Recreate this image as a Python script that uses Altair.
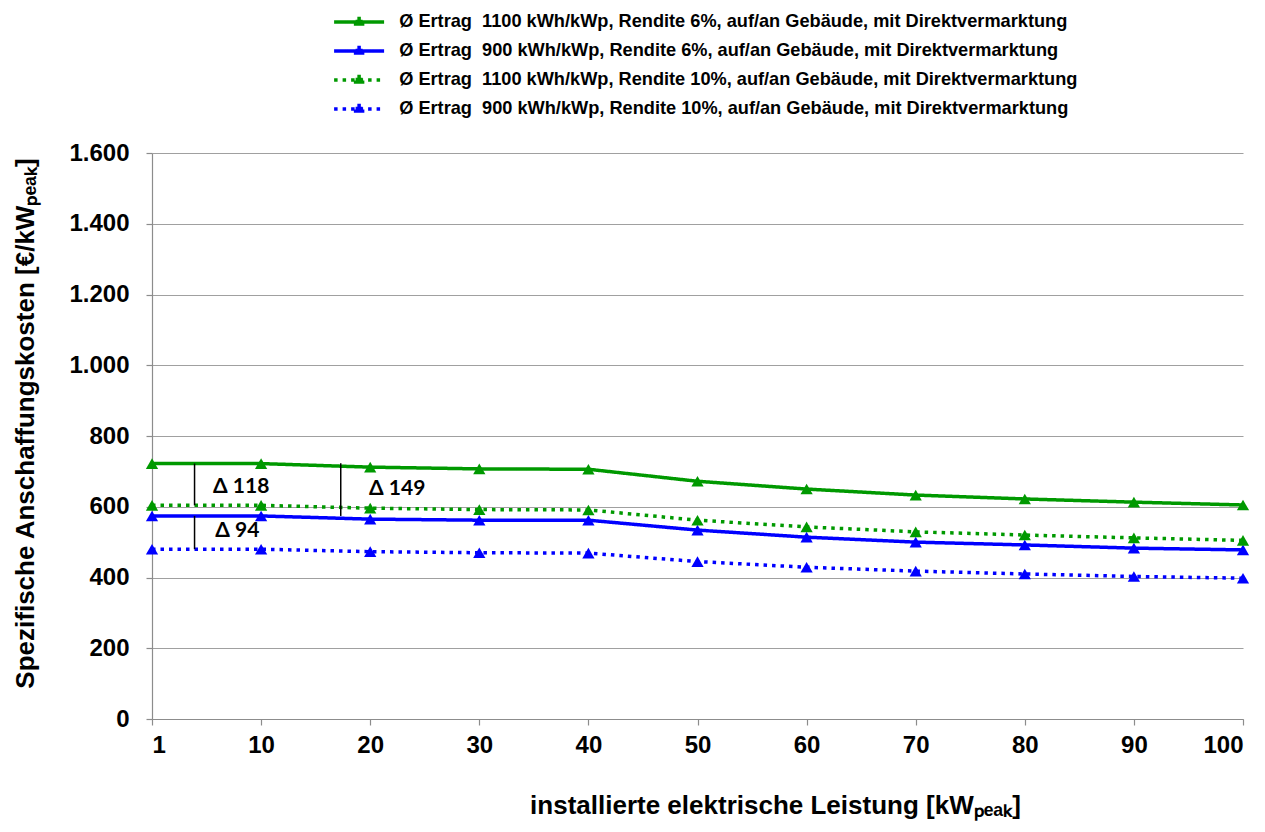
import altair as alt
import pandas as pd

kw_labels = ["1", "10", "20", "30", "40", "50", "60", "70", "80", "90", "100"]
series_names = [
    "Ø Ertrag\u00a0 1100 kWh/kWp, Rendite 6%, auf/an Gebäude, mit Direktvermarktung",
    "Ø Ertrag\u00a0 900 kWh/kWp, Rendite 6%, auf/an Gebäude, mit Direktvermarktung",
    "Ø Ertrag\u00a0 1100 kWh/kWp, Rendite 10%, auf/an Gebäude, mit Direktvermarktung",
    "Ø Ertrag\u00a0 900 kWh/kWp, Rendite 10%, auf/an Gebäude, mit Direktvermarktung",
]
g6 = [722, 722, 712, 707, 706, 672, 650, 633, 622, 613, 605]
b6 = [574, 574, 565, 562, 562, 534, 514, 500, 492, 483, 478]
g10 = [604, 604, 596, 592, 591, 562, 543, 529, 520, 512, 505]
b10 = [480, 480, 473, 470, 469, 445, 429, 418, 410, 403, 398]
colors = ["#009900", "#0000ff", "#009900", "#0000ff"]
dashes = [[1, 0], [1, 0], [3.5, 5], [3.5, 5]]

# annotations (category position, values)
ann_x = [0.39, 0.39, 1.73]
ann_y1 = [722, 574, 723]
ann_y2 = [604, 480, 574]
lab_x = [0.56, 0.58, 1.99]
lab_y = [656, 531, 650]
lab_t = ["Δ 118", "Δ 94", "Δ 149"]

rows = []
for name, vals in zip(series_names, [g6, b6, g10, b10]):
    for i, v in enumerate(vals):
        rows.append({"idx": i, "kw": kw_labels[i], "value": v, "series": name})
df = pd.DataFrame(rows)
ann = pd.DataFrame({"x": ann_x, "y1": ann_y1, "y2": ann_y2})
labs = pd.DataFrame({"x": lab_x, "y": lab_y, "t": lab_t})

label_arr = "[" + ",".join("'" + l + "'" for l in kw_labels) + "]"


def legend_symbol_path():
    # line segment plus a triangle made of short sub-paths (so dashes do not hide it)
    parts = ["M-5,0L5,0"]
    base, apex, half = 0.75, -1.05, 1.1
    for x in [-0.7, -0.35, 0.0, 0.35, 0.7]:
        top = apex + (base - apex) * abs(x) / half
        y = base
        while y > top + 1e-6:
            y2 = max(top, y - 0.6)
            parts.append(f"M{x},{y:.3f}L{x},{y2:.3f}")
            y = y2
    return "".join(parts)


leg = alt.Legend(
    title=None, orient="none", legendX=198, legendY=-140, direction="vertical",
    symbolType=legend_symbol_path(), symbolSize=100,
    symbolStrokeWidth=3.5, labelOffset=31, labelFont="Liberation Sans",
    labelFontSize=18.2, labelFontWeight="bold", labelColor="black",
    rowPadding=5, labelLimit=1000,
)

x_enc = alt.X(
    "idx:Q",
    scale=alt.Scale(domain=[0, 10], nice=False),
    axis=alt.Axis(
        values=list(range(11)), labelExpr=label_arr + "[datum.value]",
        title="installierte elektrische Leistung [kWₚₑₐₖ]", grid=False,
        titleX=623, titleY=86, titleBaseline="middle", titleAlign="center",
    ),
)
y_enc = alt.Y(
    "value:Q",
    scale=alt.Scale(domain=[0, 1600], nice=False),
    axis=alt.Axis(
        values=list(range(0, 1601, 200)),
        labelExpr="replace(format(datum.value, ','), ',', '.')",
        title="Spezifische Anschaffungskosten [€/kWₚₑₐₖ]",
        titleX=-127, titleY=270, titleAngle=-90, titleBaseline="middle", titleAlign="center",
    ),
)
color_enc = alt.Color("series:N", scale=alt.Scale(domain=series_names, range=colors), legend=leg)
dash_enc = alt.StrokeDash("series:N", scale=alt.Scale(domain=series_names, range=dashes), legend=leg)

lines = alt.Chart(df).mark_line(strokeWidth=3.5).encode(
    x=x_enc, y=y_enc, color=color_enc, strokeDash=dash_enc, detail="series:N"
)
pts = alt.Chart(df).mark_point(shape="triangle-up", filled=True, size=150, opacity=1, strokeWidth=0).encode(
    x="idx:Q", y="value:Q",
    fill=alt.Fill("series:N", scale=alt.Scale(domain=series_names, range=colors), legend=leg),
)
rules = alt.Chart(ann).mark_rule(color="black", strokeWidth=1.5).encode(
    x="x:Q", y="y1:Q", y2="y2:Q"
)
texts = alt.Chart(labs).mark_text(
    align="left", baseline="middle", font="Lato", fontSize=21, fontWeight="bold", color="black"
).encode(x="x:Q", y="y:Q", text="t:N")

chart = alt.layer(lines, pts, rules, texts).properties(
    width=1091, height=566,
    padding={"left": 144, "top": 145, "right": 14, "bottom": 105},
    autosize=alt.AutoSizeParams(type="none"),
).configure_view(stroke=None).configure_axis(
    labelFont="Liberation Sans", labelFontSize=24, labelFontWeight="bold", labelColor="black",
    titleFont="Liberation Sans", titleFontSize=26, titleFontWeight="bold", titleColor="black",
    domainColor="#8c8c8c", tickColor="#8c8c8c", gridColor="#a0a0a0", gridWidth=1.2,
    tickSize=6, domainWidth=1.2, tickWidth=1.2,
).configure_axisY(labelPadding=17).configure_axisX(labelPadding=8).configure_legend(
    labelFont="Liberation Sans", labelFontSize=18.2, labelFontWeight="bold", labelColor="black"
)

chart.save("out.html", embed_options={"renderer": "svg", "actions": False})
